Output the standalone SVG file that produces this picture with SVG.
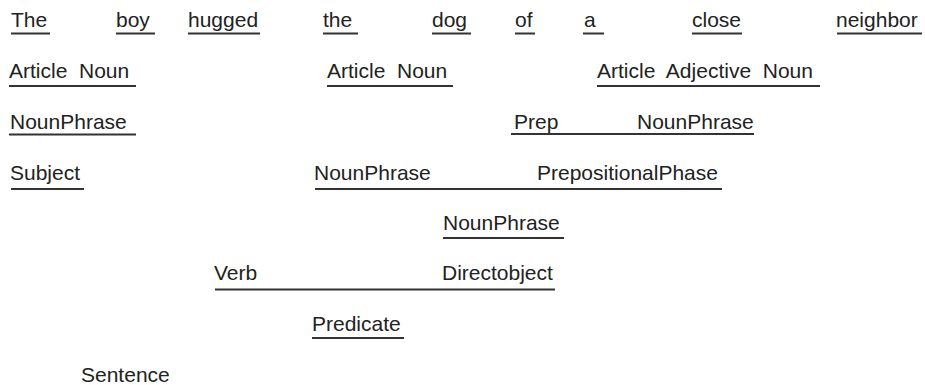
<svg xmlns="http://www.w3.org/2000/svg" width="925" height="385" viewBox="0 0 925 385">
<style>
text{font-family:"Liberation Sans",Arial,Helvetica,sans-serif;font-size:21px;fill:#222;white-space:pre}
.u{stroke:#333;stroke-width:2;fill:none}
</style>
<rect width="925" height="385" fill="#fff"/>
<g id="connectors">
<line class="u" x1="11" y1="33.5" x2="50" y2="33.5"/>
<line class="u" x1="116" y1="33.5" x2="155" y2="33.5"/>
<line class="u" x1="188" y1="33.5" x2="260" y2="33.5"/>
<line class="u" x1="323" y1="33.5" x2="358" y2="33.5"/>
<line class="u" x1="432" y1="33.5" x2="471" y2="33.5"/>
<line class="u" x1="515" y1="33.5" x2="535" y2="33.5"/>
<line class="u" x1="583" y1="33.5" x2="604" y2="33.5"/>
<line class="u" x1="692" y1="33.5" x2="742" y2="33.5"/>
<line class="u" x1="837" y1="33.5" x2="922" y2="33.5"/>
<line class="u" x1="9" y1="86" x2="136" y2="86"/>
<line class="u" x1="327" y1="86" x2="453" y2="86"/>
<line class="u" x1="597" y1="86" x2="820" y2="86"/>
<line class="u" x1="9" y1="134.5" x2="136" y2="134.5"/>
<line class="u" x1="511" y1="134" x2="754" y2="134"/>
<line class="u" x1="11" y1="189" x2="84" y2="189"/>
<line class="u" x1="315" y1="189" x2="722" y2="189"/>
<line class="u" x1="443" y1="238" x2="564" y2="238"/>
<line class="u" x1="215" y1="289.5" x2="555" y2="289.5"/>
<line class="u" x1="312" y1="338" x2="404" y2="338"/>
</g>
<g id="w-the1"><text x="11" y="27">The</text></g>
<g id="w-boy"><text x="116" y="27">boy</text></g>
<g id="w-hugged"><text x="188" y="27">hugged</text></g>
<g id="w-the2"><text x="323" y="27">the</text></g>
<g id="w-dog"><text x="432" y="27">dog</text></g>
<g id="w-of"><text x="515" y="27">of</text></g>
<g id="w-a"><text x="584" y="27">a</text></g>
<g id="w-close"><text x="692" y="27">close</text></g>
<g id="w-neighbor"><text x="836" y="27">neighbor</text></g>
<g id="an1"><text x="9" y="78">Article  Noun</text></g>
<g id="an2"><text x="327" y="78">Article  Noun</text></g>
<g id="aan"><text x="597" y="78">Article  Adjective  Noun</text></g>
<g id="np1"><text x="10" y="129">NounPhrase</text></g>
<g id="prep-np"><text x="514" y="129">Prep</text><text x="637" y="129">NounPhrase</text></g>
<g id="subject"><text x="10" y="180">Subject</text></g>
<g id="np-pp"><text x="314" y="180">NounPhrase</text><text x="537" y="180">PrepositionalPhase</text></g>
<g id="np3"><text x="443" y="230">NounPhrase</text></g>
<g id="verb-do"><text x="214" y="280">Verb</text><text x="442" y="280">Directobject</text></g>
<g id="predicate"><text x="312" y="331">Predicate</text></g>
<g id="sentence"><text x="81" y="381.5">Sentence</text></g>
</svg>
